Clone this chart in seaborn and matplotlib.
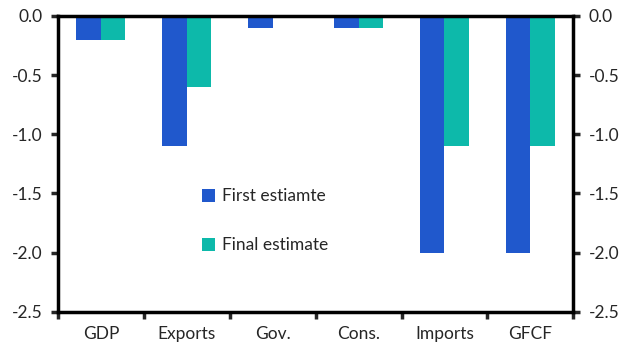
import matplotlib
matplotlib.use('Agg')
import matplotlib.pyplot as plt
import numpy as np
import pandas as pd
import seaborn as sns

# data
categories = ['GDP', 'Exports', 'Gov.', 'Cons.', 'Imports', 'GFCF']
first_est = [-0.2, -1.1, -0.1, -0.1, -2.0, -2.0]
final_est = [-0.2, -0.6, 0.0, -0.1, -1.1, -1.1]
series = ['First estiamte', 'Final estimate']
colors = ['#2058CC', '#0DB9AA']

df = pd.DataFrame({
    'cat': categories * 2,
    'val': first_est + final_est,
    'series': [series[0]] * len(categories) + [series[1]] * len(categories),
})

sns.set_style('white')
plt.rcParams['font.family'] = ['Lato', 'DejaVu Sans']

fig = plt.figure(figsize=(6.3, 3.54), dpi=100)
ax = fig.add_axes([0.092, 0.119, 0.818, 0.836])

sns.barplot(data=df, x='cat', y='val', hue='series', palette=colors,
            width=0.57, saturation=1, linewidth=0, ax=ax, order=categories)

ax.set_ylim(-2.5, 0)
ax.set_xlim(-0.5, len(categories) - 0.5)
ax.set_yticks(np.arange(-2.5, 0.01, 0.5))
ax.set_yticklabels([f'{v:.1f}' for v in np.arange(-2.5, 0.01, 0.5)])
ax.set_xlabel('')
ax.set_ylabel('')

# x ticks at category boundaries, labels centred
ax.set_xticks(np.arange(-0.5, len(categories), 1), minor=True)
ax.tick_params(axis='x', which='major', length=0, pad=10, labelsize=12.5)
ax.tick_params(axis='x', which='minor', length=5, width=2.5, direction='out',
               bottom=True)
ax.tick_params(axis='y', which='major', length=5, width=2.5, direction='out',
               left=True, right=True, labelleft=True, labelright=True,
               labelsize=12.5, pad=6)

for s in ax.spines.values():
    s.set_visible(True)
    s.set_color('black')
    s.set_linewidth(2.5)

leg = ax.legend(loc='upper left', bbox_to_anchor=(0.25, 0.47), frameon=False,
                fontsize=12.5, handlelength=0.75, handleheight=0.75,
                labelspacing=1.9, handletextpad=0.4)

fig.savefig('out.png', dpi=100)
